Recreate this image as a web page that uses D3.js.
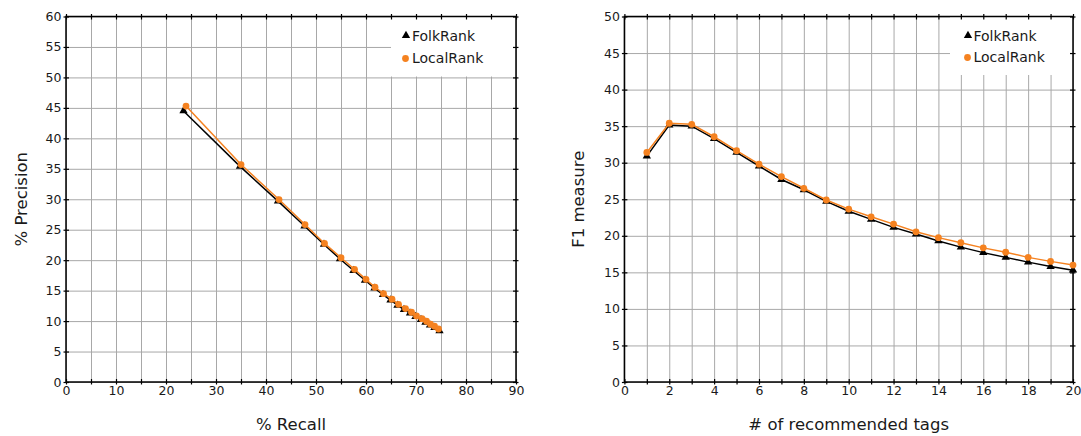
<!DOCTYPE html>
<html>
<head>
<meta charset="utf-8">
<script src="https://cdn.jsdelivr.net/npm/d3@7/dist/d3.min.js"></script>
<style>
  body { margin: 0; background: #fff; }
  svg { display: block; }
  text { font-family: "DejaVu Sans", sans-serif; fill: #1a1a1a; }
</style>
</head>
<body>
<svg id="chart" width="1081" height="436"></svg>
<script>
// Number of recommended tags (1..20)
const tagCounts = [1, 2, 3, 4, 5, 6, 7, 8, 9, 10, 11, 12, 13, 14, 15, 16, 17, 18, 19, 20];

// Precision / recall (%) for each tag count
const folkRecall     = [23.5, 34.8, 42.4, 47.7, 51.6, 54.8, 57.5, 59.8, 61.7, 63.4, 64.9, 66.3, 67.6, 68.8, 69.9, 71.0, 71.9, 72.8, 73.7, 74.7];
const folkPrecision  = [44.5, 35.4, 29.7, 25.6, 22.6, 20.2, 18.3, 16.7, 15.4, 14.35, 13.45, 12.6, 11.9, 11.3, 10.75, 10.25, 9.8, 9.35, 8.95, 8.4];
const localRecall    = [24.0, 35.0, 42.6, 47.8, 51.7, 55.0, 57.7, 60.0, 61.8, 63.5, 65.2, 66.5, 67.9, 69.1, 70.1, 71.2, 72.1, 72.9, 73.7, 74.5];
const localPrecision = [45.3, 35.7, 29.95, 25.85, 22.75, 20.4, 18.5, 16.85, 15.55, 14.5, 13.6, 12.75, 12.05, 11.45, 10.85, 10.4, 9.97, 9.5, 9.15, 8.7];

// F1 measure (%) for each tag count
const folkF1  = [30.9, 35.15, 35.0, 33.3, 31.4, 29.55, 27.7, 26.3, 24.7, 23.35, 22.25, 21.15, 20.25, 19.3, 18.45, 17.7, 17.05, 16.4, 15.8, 15.3];
const localF1 = [31.4, 35.4, 35.25, 33.55, 31.65, 29.8, 28.1, 26.5, 24.9, 23.65, 22.6, 21.6, 20.55, 19.75, 19.05, 18.35, 17.75, 17.05, 16.5, 16.0];

// Axis ticks
const recallTicks     = [0, 5, 10, 15, 20, 25, 30, 35, 40, 45, 50, 55, 60, 65, 70, 75, 80, 85, 90];
const recallLabels    = [0, 10, 20, 30, 40, 50, 60, 70, 80, 90];
const precisionTicks  = [0, 5, 10, 15, 20, 25, 30, 35, 40, 45, 50, 55, 60];
const tagTicks        = [0, 1, 2, 3, 4, 5, 6, 7, 8, 9, 10, 11, 12, 13, 14, 15, 16, 17, 18, 19, 20];
const tagLabels       = [0, 2, 4, 6, 8, 10, 12, 14, 16, 18, 20];
const f1Ticks         = [0, 5, 10, 15, 20, 25, 30, 35, 40, 45, 50];

const seriesNames = ["FolkRank", "LocalRank"];
const FOLK_COLOR = "#000000";
const LOCAL_COLOR = "#f58220";
const GRID_COLOR = "#a8a8a8";

const svg = d3.select("#chart");
svg.append("rect").attr("width", 1081).attr("height", 436).attr("fill", "#fff");

const triangle = d3.symbol().type(d3.symbolTriangle).size(30);

function panel(opt) {
  const g = svg.append("g");
  const x = d3.scaleLinear().domain(opt.xDomain).range([opt.left, opt.right]);
  const y = d3.scaleLinear().domain(opt.yDomain).range([opt.bottom, opt.top]);
  const w = opt.right - opt.left, h = opt.bottom - opt.top;

  // grid
  g.append("g")
    .attr("transform", `translate(0,${opt.bottom})`)
    .call(d3.axisBottom(x).tickValues(opt.xTicks).tickSize(-h).tickFormat(""))
    .call(s => s.select(".domain").remove())
    .call(s => s.selectAll("line").attr("stroke", GRID_COLOR).attr("stroke-width", 1));
  g.append("g")
    .attr("transform", `translate(${opt.left},0)`)
    .call(d3.axisLeft(y).tickValues(opt.yTicks).tickSize(-w).tickFormat(""))
    .call(s => s.select(".domain").remove())
    .call(s => s.selectAll("line").attr("stroke", GRID_COLOR).attr("stroke-width", 1));

  // legend background
  g.append("rect")
    .attr("x", opt.legend.x).attr("y", opt.top)
    .attr("width", opt.right - opt.legend.x).attr("height", opt.legend.h)
    .attr("fill", "#fff");

  // frame ticks: outward and inward on all four sides
  const tickStyle = s => {
    s.select(".domain").remove();
    s.selectAll("line").attr("stroke", "#000").attr("stroke-width", 1.2);
  };
  const pairs = [
    [d3.axisBottom, d3.axisTop, x, opt.xTicks, `translate(0,${opt.bottom})`],
    [d3.axisTop, d3.axisBottom, x, opt.xTicks, `translate(0,${opt.top})`],
    [d3.axisLeft, d3.axisRight, y, opt.yTicks, `translate(${opt.left},0)`],
    [d3.axisRight, d3.axisLeft, y, opt.yTicks, `translate(${opt.right},0)`]
  ];
  pairs.forEach(([outer, inner, sc, tv, tr]) => {
    g.append("g").attr("transform", tr)
      .call(outer(sc).tickValues(tv).tickSize(2.5).tickFormat("")).call(tickStyle);
    g.append("g").attr("transform", tr)
      .call(inner(sc).tickValues(tv).tickSize(3).tickFormat("")).call(tickStyle);
  });

  g.append("rect")
    .attr("x", opt.left).attr("y", opt.top).attr("width", w).attr("height", h)
    .attr("fill", "none").attr("stroke", "#000").attr("stroke-width", 1.5);

  // tick labels
  g.append("g").attr("transform", `translate(0,${opt.bottom})`)
    .call(d3.axisBottom(x).tickValues(opt.xLabels).tickSize(0).tickPadding(4.5).tickFormat(d3.format("d")))
    .call(s => s.select(".domain").remove())
    .call(s => s.selectAll("text").attr("font-size", 12.5).attr("font-family", "DejaVu Sans").attr("fill", "#1a1a1a"));
  g.append("g").attr("transform", `translate(${opt.left},0)`)
    .call(d3.axisLeft(y).tickValues(opt.yTicks).tickSize(0).tickPadding(4.5).tickFormat(d3.format("d")))
    .call(s => s.select(".domain").remove())
    .call(s => s.selectAll("text").attr("font-size", 12.5).attr("font-family", "DejaVu Sans").attr("fill", "#1a1a1a"));

  // axis titles
  g.append("text")
    .attr("x", (opt.left + opt.right) / 2).attr("y", 430)
    .attr("text-anchor", "middle").attr("font-size", 16.5)
    .text(opt.xTitle);
  g.append("text")
    .attr("transform", `translate(${opt.yTitleX},${(opt.top + opt.bottom) / 2}) rotate(-90)`)
    .attr("text-anchor", "middle").attr("font-size", 16.5)
    .text(opt.yTitle);

  // series
  const line = d3.line().x(d => x(d[0])).y(d => y(d[1]));
  const folk = opt.folk, local = opt.local;
  g.append("path").datum(folk).attr("d", line)
    .attr("fill", "none").attr("stroke", FOLK_COLOR).attr("stroke-width", 1.5);
  g.append("g").selectAll("path").data(folk).join("path")
    .attr("transform", d => `translate(${x(d[0])},${y(d[1])})`)
    .attr("d", triangle).attr("fill", FOLK_COLOR);
  g.append("path").datum(local).attr("d", line)
    .attr("fill", "none").attr("stroke", LOCAL_COLOR).attr("stroke-width", 1.5);
  g.append("g").selectAll("circle").data(local).join("circle")
    .attr("cx", d => x(d[0])).attr("cy", d => y(d[1])).attr("r", 3.4)
    .attr("fill", LOCAL_COLOR);

  // legend
  const L = opt.legend;
  g.append("path").attr("transform", `translate(${L.mx},${L.y1 - 5})`)
    .attr("d", triangle).attr("fill", FOLK_COLOR);
  g.append("text").attr("x", L.tx).attr("y", L.y1).attr("font-size", 14).text(seriesNames[0]);
  g.append("circle").attr("cx", L.mx - 0.5).attr("cy", L.y2 - 4.5).attr("r", 3.4).attr("fill", LOCAL_COLOR);
  g.append("text").attr("x", L.tx).attr("y", L.y2).attr("font-size", 14).text(seriesNames[1]);
}

panel({
  left: 66, right: 516, top: 16.5, bottom: 382,
  xDomain: [0, 90], yDomain: [0, 60],
  xTicks: recallTicks, xLabels: recallLabels, yTicks: precisionTicks,
  xTitle: "% Recall", yTitle: "% Precision", yTitleX: 26.5,
  folk: folkRecall.map((r, i) => [r, folkPrecision[i]]),
  local: localRecall.map((r, i) => [r, localPrecision[i]]),
  legend: { x: 391, h: 60, mx: 406, tx: 412, y1: 40.5, y2: 63 }
});

panel({
  left: 624.4, right: 1073, top: 16.5, bottom: 382,
  xDomain: [0, 20], yDomain: [0, 50],
  xTicks: tagTicks, xLabels: tagLabels, yTicks: f1Ticks,
  xTitle: "# of recommended tags", yTitle: "F1 measure", yTitleX: 584,
  folk: tagCounts.map((k, i) => [k, folkF1[i]]),
  local: tagCounts.map((k, i) => [k, localF1[i]]),
  legend: { x: 950, h: 58.5, mx: 968, tx: 973.5, y1: 40.5, y2: 62 }
});
</script>
</body>
</html>
